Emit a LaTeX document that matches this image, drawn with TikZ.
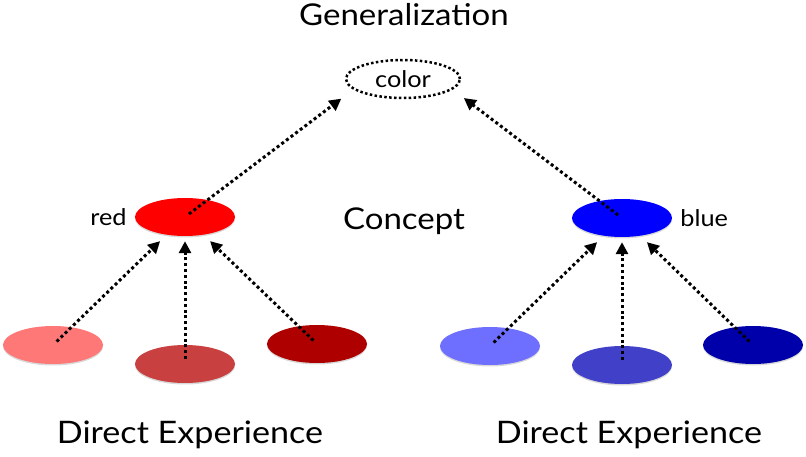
\documentclass[tikz,border=0pt]{standalone}
\usepackage{fontspec}
\setmainfont{Lato}[FakeStretch=1.1]
\usepackage{tikz}
\usetikzlibrary{arrows.meta, positioning, shapes.geometric, shadows}

\definecolor{redA}{RGB}{255,120,120}
\definecolor{redB}{RGB}{200,64,64}
\definecolor{redC}{RGB}{175,0,0}
\definecolor{blueA}{RGB}{110,110,255}
\definecolor{blueB}{RGB}{64,64,200}
\definecolor{blueC}{RGB}{0,0,170}

\begin{document}
\begin{tikzpicture}[x=1pt, y=-1pt,
            general/.style={ellipse,draw,line width=2.5pt,dash pattern=on 2.5pt off 2.4pt,minimum width=114pt,minimum height=38pt,font=\fontsize{23}{23}\selectfont},
            concept/.style={ellipse,minimum width=100pt,minimum height=38pt,drop shadow={shadow xshift=0pt,shadow yshift=-1.5pt,opacity=0.3}},
            heading/.style={font=\fontsize{30}{30}\selectfont},
            lbl/.style={font=\fontsize{23}{23}\selectfont,inner sep=2pt},
            link/.style={line width=3pt,dash pattern=on 3pt off 2.8pt,-{Triangle[length=12pt,width=12pt]}}
        ]
            \useasboundingbox (0,0) rectangle (806,457);

            % Generalization
            \node[heading,anchor=base] (gentitle) at (404,26) {Generalization};
            \node[general] (color) at (403,79) {color};

            % Concepts
            \node[concept,fill=red] (red) at (185,217) {};
            \node[concept,fill=blue] (blue) at (622,218) {};
            \node[lbl,left=6pt of red] (redlbl) {red};
            \node[lbl,right=6pt of blue] (bluelbl) {blue};
            \node[heading,anchor=base] (concepttitle) at (404,230) {Concept};

            % Direct experience
            \foreach \n/\x/\y/\c in {lr/53/345/redA, mr/185/364/redB, dr/317/344/redC,
                                     lb/490/346/blueA, mb/622/365/blueB, db/753/345/blueC}
                \node[concept,fill=\c] (\n) at (\x,\y) {};

            \node[heading,anchor=base,font=\fontsize{31}{31}\selectfont] (expred) at (190,443) {Direct Experience};
            \node[heading,anchor=base,font=\fontsize{31}{31}\selectfont] (expblue) at (629,443) {Direct Experience};

            % Connections
            \foreach \s/\t/\g in {lr/red/9pt, mr/red/5pt, dr/red/9pt,
                                  lb/blue/9pt, mb/blue/5pt, db/blue/9pt}
                \draw[link,shorten <=5pt,shorten >=\g] (\s.center) -- (\t);

            \draw[link,shorten <=5pt,shorten >=15pt] (red.center) -- (color.192);
            \draw[link,shorten <=5pt,shorten >=14pt] (blue.center) -- (color.348);
        \end{tikzpicture}
\end{document}
